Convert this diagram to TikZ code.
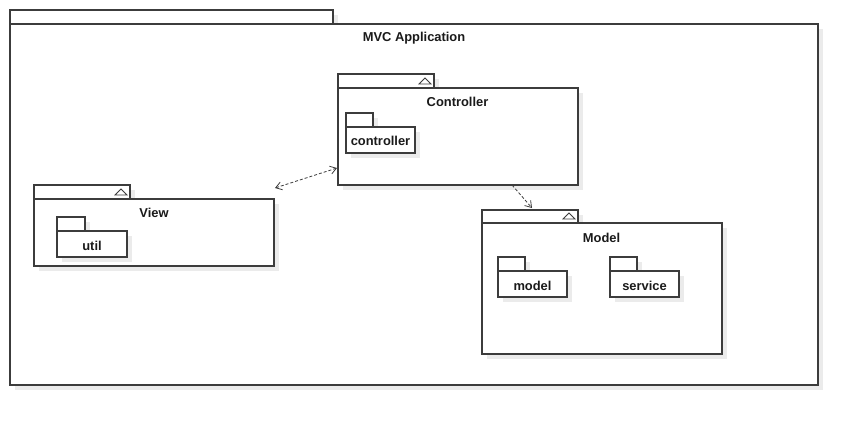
\documentclass[tikz,border=0pt]{standalone}
\usepackage{fontspec}
\setmainfont{Liberation Sans}
\usetikzlibrary{arrows.meta}
\definecolor{linec}{HTML}{3C3C3C}
\definecolor{textc}{HTML}{1A1A1A}
\definecolor{shadowc}{HTML}{EBEBEB}
\tikzset{
  box/.style={draw=linec, line width=1.2pt, fill=white, inner sep=0pt, outer sep=0pt, anchor=north west},
  lbl/.style={font=\bfseries\fontsize{12.9}{15}\selectfont, text=textc, inner sep=0pt, anchor=base},
  tri/.style={draw=linec, line width=0.8pt, fill=white},
  dep/.style={draw=linec, dash pattern=on 3pt off 2pt, line width=0.8pt},
  tip/.style={-{Straight Barb[length=6pt,width=8pt]}},
}
% #1 name, #2 x1, #3 y1 (body top), #4 x2, #5 y2, #6 tab right, #7 tab top
\newcommand\pkgbox[7]{%
  \fill[shadowc] (#2+5,#7+5) rectangle (#6+5,#3+5);
  \fill[shadowc] (#2+5,#3+5) rectangle (#4+5,#5+5);
  \node[box, minimum width={(#6-#2)*1pt}, minimum height={(#3-#7)*1pt}] (#1tab) at (#2,#7) {};
  \node[box, minimum width={(#4-#2)*1pt}, minimum height={(#5-#3)*1pt}] (#1) at (#2,#3) {};
}
\newcommand\pkgtri[2]{% tab right, tab bottom
  \draw[tri] (#1-15,#2-4) -- (#1-9,#2-10) -- (#1-3,#2-4) -- cycle;
}
\begin{document}
\begin{tikzpicture}[x=1pt,y=-1pt]
\useasboundingbox (0,0) rectangle (858,426);
% outer package
\pkgbox{mvc}{10}{24}{818}{385}{333}{10}
\node[lbl] (mvclbl) at (414,41.7) {MVC Application};
% Controller
\pkgbox{ctrl}{338}{88}{578}{185}{434}{74}
\pkgtri{434}{88}
\node[lbl] (ctrllbl) at (457.5,106) {Controller};
\pkgbox{ctrlsub}{346}{127}{415}{153}{373}{113}
\node[lbl] (ctrlsublbl) at (380.5,145) {controller};
% View
\pkgbox{view}{34}{199}{274}{266}{130}{185}
\pkgtri{130}{199}
\node[lbl] (viewlbl) at (154,217.7) {View};
\pkgbox{util}{57}{231}{127}{257}{85}{217}
\node[lbl] (utillbl) at (92,250) {util};
% Model
\pkgbox{model}{482}{223}{722}{354}{578}{210}
\pkgtri{578}{223}
\node[lbl] (modellbl) at (601.5,242.3) {Model};
\pkgbox{msub}{498}{271}{567}{297}{525}{257}
\node[lbl] (msublbl) at (532.5,290) {model};
\pkgbox{ssub}{610}{271}{679}{297}{637}{257}
\node[lbl] (ssublbl) at (644.5,290) {service};
% connectors
\coordinate (vc1) at (275,188);
\coordinate (vc2) at (337,168);
\draw[dep, {Straight Barb[length=6pt,width=8pt]}-{Straight Barb[length=6pt,width=8pt]}] (vc1) -- (vc2);
\coordinate (cm1) at (512,185);
\coordinate (cm2) at (532,208);
\draw[dep, tip] (cm1) -- (cm2);
\end{tikzpicture}
\end{document}
